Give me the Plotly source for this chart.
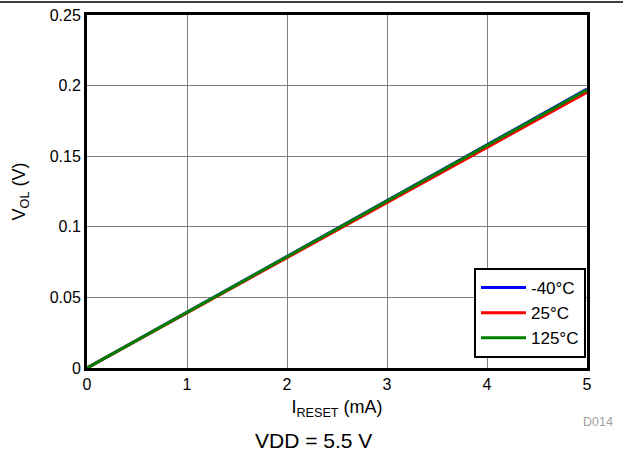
import plotly.graph_objects as go

current_ma = [0, 1, 2, 3, 4, 5]
vol_m40 = [0, 0.0395, 0.0790, 0.1185, 0.1580, 0.1975]
vol_25 = [0, 0.0390, 0.0780, 0.1171, 0.1561, 0.1953]
vol_125 = [0, 0.0394, 0.0788, 0.1182, 0.1577, 0.1971]
series_names = ["-40°C", "25°C", "125°C"]
colors = ["#0000FF", "#FF0000", "#008000"]

fig = go.Figure()
for name, ys, c in zip(series_names, [vol_m40, vol_25, vol_125], colors):
    fig.add_trace(go.Scatter(x=current_ma, y=ys, mode="lines", name=name,
                             line=dict(color=c, width=3)))

W, H = 623, 455
L, R, T, B = 87, 36, 15, 87
pw, ph = W - L - R, H - T - B

font = "Liberation Sans, Arial, sans-serif"
fig.update_layout(
    width=W, height=H,
    margin=dict(l=L, r=R, t=T, b=B, autoexpand=False),
    paper_bgcolor="white", plot_bgcolor="white",
    font=dict(family=font, size=16, color="black"),
    showlegend=True,
    legend=dict(x=0.998, y=10 / ph, xanchor="right", yanchor="bottom",
                bordercolor="black", borderwidth=2, bgcolor="white",
                font=dict(size=17), itemwidth=45, tracegroupgap=0,
                entrywidth=70),
    xaxis=dict(range=[0, 5], dtick=1, showgrid=True, gridcolor="#808080", gridwidth=1,
               showline=True, linecolor="black", linewidth=3, mirror=True,
               ticks="", zeroline=False, tickfont=dict(size=16),
               title=dict(text="I<sub>RESET</sub> (mA)", font=dict(size=18), standoff=9)),
    yaxis=dict(range=[0, 0.25], dtick=0.05, showgrid=True, gridcolor="#808080", gridwidth=1,
               showline=True, linecolor="black", linewidth=3, mirror=True,
               ticks="", zeroline=False, tickfont=dict(size=16),
               tickvals=[0, 0.05, 0.1, 0.15, 0.2, 0.25],
               ticktext=["0", "0.05", "0.1", "0.15", "0.2", "0.25"],
               title=dict(text="V<sub>OL</sub> (V)", font=dict(size=18), standoff=20)),
    shapes=[dict(type="line", xref="paper", yref="paper",
                 x0=-L / pw, x1=(W - L) / pw, y0=1 + 13 / ph, y1=1 + 13 / ph,
                 line=dict(color="black", width=1.5))],
    annotations=[
        dict(text="D014", xref="paper", yref="paper", x=(598 - L) / pw, y=-(422 - 368) / ph,
             showarrow=False, font=dict(size=12.5, color="#A0A0A0"), xanchor="center", yanchor="middle"),
        dict(text="VDD = 5.5 V", xref="paper", yref="paper", x=(313 - L) / pw, y=-(440 - 368) / ph,
             showarrow=False, font=dict(size=21, color="black"), xanchor="center", yanchor="middle"),
    ],
)
fig.write_html("out.html")
